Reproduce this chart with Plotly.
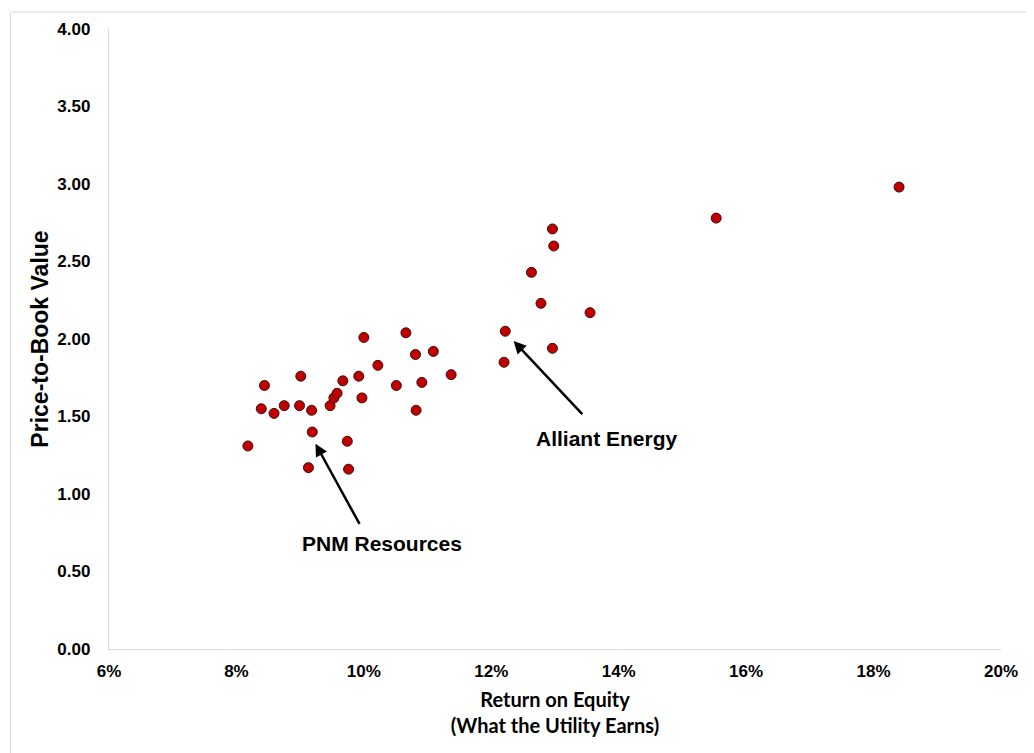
import plotly.graph_objects as go

# Return on equity (fraction) and price-to-book value per utility
roe = [0.0818, 0.0844, 0.0839, 0.0859, 0.0875, 0.0901, 0.0899, 0.0918, 0.0919, 0.0913,
       0.0947, 0.0953, 0.0958, 0.0967, 0.0974, 0.0976, 0.0992, 0.0997, 0.1000, 0.1022,
       0.1066, 0.1051, 0.1081, 0.1091, 0.1082, 0.1109, 0.1137, 0.1296, 0.1298, 0.1263,
       0.1278, 0.1355, 0.1222, 0.1296, 0.1220, 0.1553, 0.1840]
ptb = [1.31, 1.70, 1.55, 1.52, 1.57, 1.76, 1.57, 1.54, 1.40, 1.17,
       1.57, 1.62, 1.65, 1.73, 1.34, 1.16, 1.76, 1.62, 2.01, 1.83,
       2.04, 1.70, 1.90, 1.72, 1.54, 1.92, 1.77, 2.71, 2.60, 2.43,
       2.23, 2.17, 2.05, 1.94, 1.85, 2.78, 2.98]

x_ticks = [0.06, 0.08, 0.10, 0.12, 0.14, 0.16, 0.18, 0.20]
y_ticks = [0.0, 0.5, 1.0, 1.5, 2.0, 2.5, 3.0, 3.5, 4.0]

ARIAL = "Liberation Sans, Arial, sans-serif"

fig = go.Figure()
fig.add_trace(go.Scatter(
    x=roe, y=ptb, mode="markers",
    marker=dict(size=10, color="#c00000", line=dict(color="#3a1010", width=1)),
    showlegend=False, hoverinfo="x+y",
))

fig.update_layout(
    width=1026, height=745,
    margin=dict(l=100.5, r=33, t=19, b=104),
    paper_bgcolor="white", plot_bgcolor="white",
    font=dict(family=ARIAL, color="black"),
    xaxis=dict(
        range=[0.06, 0.20], tickvals=x_ticks, tickformat=".0%",
        showgrid=False, zeroline=False, showline=True, linecolor="#d9d9d9", linewidth=1.3,
        ticks="", ticklabelstandoff=6,
        tickfont=dict(family=ARIAL, size=17, weight="bold", color="black"),
        title=dict(text="Return on Equity<br>(What the Utility Earns)",
                   font=dict(family="Lato, Open Sans, sans-serif", size=20, weight="bold", color="black"),
                   standoff=13),
    ),
    yaxis=dict(
        range=[0, 4.0], tickvals=y_ticks, tickformat=".2f",
        showgrid=False, zeroline=False, showline=True, linecolor="#d9d9d9", linewidth=1.3,
        ticks="", ticklabelstandoff=14,
        tickfont=dict(family=ARIAL, size=17, weight="bold", color="black"),
        title=dict(text="Price-to-Book Value",
                   font=dict(family=ARIAL, size=23, weight="bold", color="black"),
                   standoff=2),
    ),
    shapes=[dict(type="rect", xref="paper", yref="paper",
                 x0=-0.1104, x1=1.2, y0=-0.3, y1=1.0273,
                 line=dict(color="#d9d9d9", width=1), layer="below")],
    annotations=[
        dict(x=0.0924, y=1.325, ax=0.09945, ay=0.797, xref="x", yref="y", axref="x", ayref="y",
             text="", showarrow=True, arrowhead=2, arrowsize=1, arrowwidth=2.5, arrowcolor="black"),
        dict(x=0.10285, y=0.68, xref="x", yref="y", text="PNM Resources", showarrow=False,
             font=dict(family=ARIAL, size=21, weight="bold", color="black")),
        dict(x=0.1235, y=1.987, ax=0.1345, ay=1.505, xref="x", yref="y", axref="x", ayref="y",
             text="", showarrow=True, arrowhead=2, arrowsize=1, arrowwidth=2.5, arrowcolor="black"),
        dict(x=0.13815, y=1.355, xref="x", yref="y", text="Alliant Energy", showarrow=False,
             font=dict(family=ARIAL, size=21, weight="bold", color="black")),
    ],
)

fig.write_html("out.html")
